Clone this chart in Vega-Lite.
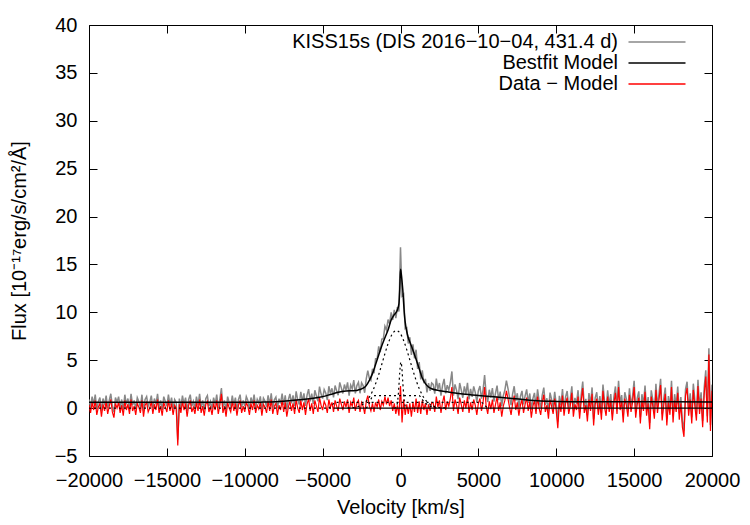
{
  "$schema": "https://vega.github.io/schema/vega-lite/v6.json",
  "width": 623,
  "height": 431,
  "autosize": {"type": "none"},
  "padding": {"left": 89, "top": 25, "right": 38, "bottom": 69},
  "background": "white",
  "config": {
    "font": "Liberation Sans",
    "view": {"stroke": "#000000", "strokeWidth": 1},
    "axis": {
      "domain": false,
      "grid": false,
      "tickColor": "#000000",
      "tickSize": -8,
      "tickWidth": 1,
      "labelColor": "#000000",
      "labelFontSize": 20,
      "labelFlush": false,
      "labelOverlap": false,
      "titleColor": "#000000",
      "titleFontSize": 20,
      "titleFontWeight": "normal"
    }
  },
  "datasets": {
    "spec": [
      {"v":-20000,"d":0.9,"r":0.3},{"v":-19900,"d":0.1,"r":-0.5},{"v":-19800,"d":1.2,"r":0.6},{"v":-19700,"d":0.4,"r":-0.2},{"v":-19600,"d":1.4,"r":0.8},
      {"v":-19500,"d":-0.1,"r":-0.7},{"v":-19400,"d":0.7,"r":0.1},{"v":-19300,"d":1.1,"r":0.5},{"v":-19200,"d":-0.3,"r":-0.9},{"v":-19100,"d":1.0,"r":0.4},
      {"v":-19000,"d":0.3,"r":-0.3},{"v":-18900,"d":1.3,"r":0.7},{"v":-18800,"d":0.0,"r":-0.6},{"v":-18700,"d":0.8,"r":0.2},{"v":-18600,"d":1.5,"r":0.9},
      {"v":-18500,"d":0.2,"r":-0.4},{"v":-18400,"d":-0.4,"r":-1.0},{"v":-18300,"d":1.1,"r":0.5},{"v":-18200,"d":0.6,"r":0.0},{"v":-18100,"d":1.2,"r":0.6},
      {"v":-18000,"d":0.1,"r":-0.5},{"v":-17900,"d":0.9,"r":0.3},{"v":-17800,"d":-0.2,"r":-0.8},{"v":-17700,"d":1.4,"r":0.8},{"v":-17600,"d":0.4,"r":-0.2},
      {"v":-17500,"d":1.0,"r":0.4},{"v":-17400,"d":0.0,"r":-0.6},{"v":-17300,"d":1.5,"r":0.9},{"v":-17200,"d":0.3,"r":-0.3},{"v":-17100,"d":0.8,"r":0.2},
      {"v":-17000,"d":-0.1,"r":-0.7},{"v":-16900,"d":1.1,"r":0.5},{"v":-16800,"d":0.7,"r":0.1},{"v":-16700,"d":0.1,"r":-0.5},{"v":-16600,"d":1.4,"r":0.8},
      {"v":-16500,"d":-0.3,"r":-0.9},{"v":-16400,"d":0.9,"r":0.3},{"v":-16300,"d":1.2,"r":0.6},{"v":-16200,"d":0.2,"r":-0.4},{"v":-16100,"d":0.6,"r":0.0},
      {"v":-16000,"d":1.3,"r":0.7},{"v":-15900,"d":0.0,"r":-0.6},{"v":-15800,"d":1.0,"r":0.4},{"v":-15700,"d":0.4,"r":-0.2},{"v":-15600,"d":1.5,"r":0.9},
      {"v":-15500,"d":0.1,"r":-0.5},{"v":-15400,"d":0.8,"r":0.2},{"v":-15300,"d":-0.2,"r":-0.8},{"v":-15200,"d":1.2,"r":0.6},{"v":-15100,"d":0.7,"r":0.1},
      {"v":-15000,"d":0.2,"r":-0.4},{"v":-14900,"d":1.4,"r":0.8},{"v":-14800,"d":0.3,"r":-0.3},{"v":-14700,"d":1.1,"r":0.5},{"v":-14600,"d":-0.1,"r":-0.7},
      {"v":-14500,"d":0.9,"r":0.3},{"v":-14400,"d":0.6,"r":0.0},{"v":-14300,"d":-3.3,"r":-3.9},{"v":-14200,"d":1.0,"r":0.4},{"v":-14100,"d":0.1,"r":-0.5},
      {"v":-14000,"d":1.3,"r":0.7},{"v":-13900,"d":0.4,"r":-0.2},{"v":-13800,"d":1.1,"r":0.5},{"v":-13700,"d":-0.3,"r":-0.9},{"v":-13600,"d":0.9,"r":0.3},
      {"v":-13500,"d":1.4,"r":0.8},{"v":-13400,"d":0.2,"r":-0.4},{"v":-13300,"d":0.7,"r":0.1},{"v":-13200,"d":0.0,"r":-0.6},{"v":-13100,"d":1.2,"r":0.6},
      {"v":-13000,"d":0.3,"r":-0.3},{"v":-12900,"d":1.5,"r":0.9},{"v":-12800,"d":0.1,"r":-0.5},{"v":-12700,"d":0.8,"r":0.2},{"v":-12600,"d":-0.2,"r":-0.8},
      {"v":-12500,"d":1.0,"r":0.4},{"v":-12400,"d":1.3,"r":0.7},{"v":-12300,"d":0.2,"r":-0.4},{"v":-12200,"d":0.7,"r":0.1},{"v":-12100,"d":-0.1,"r":-0.7},
      {"v":-12000,"d":1.1,"r":0.5},{"v":-11900,"d":0.4,"r":-0.2},{"v":-11800,"d":1.4,"r":0.8},{"v":-11700,"d":0.0,"r":-0.6},{"v":-11600,"d":0.9,"r":0.3},
      {"v":-11500,"d":2.1,"r":1.5},{"v":-11400,"d":0.1,"r":-0.5},{"v":-11300,"d":0.8,"r":0.2},{"v":-11200,"d":-0.3,"r":-0.9},{"v":-11100,"d":1.2,"r":0.6},
      {"v":-11000,"d":0.6,"r":0.0},{"v":-10900,"d":0.2,"r":-0.4},{"v":-10800,"d":1.3,"r":0.7},{"v":-10700,"d":0.3,"r":-0.3},{"v":-10600,"d":1.1,"r":0.5},
      {"v":-10500,"d":-0.2,"r":-0.8},{"v":-10400,"d":0.9,"r":0.3},{"v":-10300,"d":1.4,"r":0.8},{"v":-10200,"d":0.1,"r":-0.5},{"v":-10100,"d":0.8,"r":0.2},
      {"v":-10000,"d":0.2,"r":-0.4},{"v":-9900,"d":1.2,"r":0.6},{"v":-9800,"d":0.8,"r":0.2},{"v":-9700,"d":-0.09,"r":-0.7},{"v":-9600,"d":1.11,"r":0.5},
      {"v":-9500,"d":0.41,"r":-0.2},{"v":-9400,"d":1.41,"r":0.8},{"v":-9300,"d":0.11,"r":-0.5},{"v":-9200,"d":0.92,"r":0.3},{"v":-9100,"d":0.52,"r":-0.1},
      {"v":-9000,"d":1.22,"r":0.6},{"v":-8900,"d":-0.18,"r":-0.8},{"v":-8800,"d":1.03,"r":0.4},{"v":-8700,"d":0.73,"r":0.1},{"v":-8600,"d":0.14,"r":-0.5},
      {"v":-8500,"d":1.34,"r":0.7},{"v":-8400,"d":0.34,"r":-0.3},{"v":-8300,"d":1.55,"r":0.9},{"v":-8200,"d":0.05,"r":-0.6},{"v":-8100,"d":0.86,"r":0.2},
      {"v":-8000,"d":1.16,"r":0.5},{"v":-7900,"d":-0.03,"r":-0.7},{"v":-7800,"d":0.98,"r":0.3},{"v":-7700,"d":0.49,"r":-0.2},{"v":-7600,"d":1.51,"r":0.8},
      {"v":-7500,"d":0.32,"r":-0.4},{"v":-7400,"d":1.34,"r":0.6},{"v":-7300,"d":-0.15,"r":-0.9},{"v":-7200,"d":0.87,"r":0.1},{"v":-7100,"d":1.48,"r":0.7},
      {"v":-7000,"d":0.5,"r":-0.3},{"v":-6900,"d":1.32,"r":0.5},{"v":-6800,"d":0.23,"r":-0.6},{"v":-6700,"d":1.75,"r":0.9},{"v":-6600,"d":0.86,"r":0.0},
      {"v":-6500,"d":0.38,"r":-0.5},{"v":-6400,"d":1.7,"r":0.8},{"v":-6300,"d":0.71,"r":-0.2},{"v":-6200,"d":1.53,"r":0.6},{"v":-6100,"d":0.24,"r":-0.7},
      {"v":-6000,"d":1.36,"r":0.4},{"v":-5900,"d":1.98,"r":1.0},{"v":-5800,"d":0.7,"r":-0.3},{"v":-5700,"d":1.52,"r":0.5},{"v":-5600,"d":0.44,"r":-0.6},
      {"v":-5500,"d":1.86,"r":0.8},{"v":-5400,"d":1.29,"r":0.2},{"v":-5300,"d":0.72,"r":-0.4},{"v":-5200,"d":2.24,"r":1.1},{"v":-5100,"d":1.47,"r":0.3},
      {"v":-5000,"d":1.0,"r":-0.2},{"v":-4900,"d":1.94,"r":0.7},{"v":-4800,"d":1.59,"r":0.3},{"v":-4700,"d":0.83,"r":-0.5},{"v":-4600,"d":2.28,"r":0.9},
      {"v":-4500,"d":1.52,"r":0.1},{"v":-4400,"d":2.07,"r":0.6},{"v":-4300,"d":1.12,"r":-0.4},{"v":-4200,"d":2.36,"r":0.8},{"v":-4100,"d":1.81,"r":0.2},
      {"v":-4000,"d":1.35,"r":-0.3},{"v":-3900,"d":2.68,"r":1.0},{"v":-3800,"d":2.11,"r":0.4},{"v":-3700,"d":1.53,"r":-0.2},{"v":-3600,"d":2.46,"r":0.7},
      {"v":-3500,"d":1.88,"r":0.1},{"v":-3400,"d":2.69,"r":0.9},{"v":-3300,"d":1.3,"r":-0.5},{"v":-3200,"d":2.41,"r":0.6},{"v":-3100,"d":2.01,"r":0.2},
      {"v":-3000,"d":2.92,"r":1.1},{"v":-2900,"d":1.53,"r":-0.3},{"v":-2800,"d":2.35,"r":0.5},{"v":-2700,"d":2.7,"r":0.8},{"v":-2600,"d":1.55,"r":-0.4},
      {"v":-2500,"d":2.65,"r":0.6},{"v":-2400,"d":2.35,"r":0.2},{"v":-2300,"d":1.6,"r":-0.6},{"v":-2200,"d":3.05,"r":0.7},{"v":-2100,"d":3.9,"r":1.3},
      {"v":-2000,"d":3.1,"r":0.2},{"v":-1900,"d":2.9,"r":-0.3},{"v":-1800,"d":4.1,"r":0.5},{"v":-1700,"d":3.65,"r":-0.4},{"v":-1600,"d":5.15,"r":0.6},
      {"v":-1500,"d":5.15,"r":0.1},{"v":-1400,"d":6.45,"r":0.9},{"v":-1300,"d":5.85,"r":-0.2},{"v":-1200,"d":7.2,"r":0.7},{"v":-1100,"d":7.25,"r":0.3},
      {"v":-1000,"d":8.55,"r":1.2},{"v":-900,"d":8.15,"r":0.4},{"v":-800,"d":9.25,"r":1.1},{"v":-700,"d":8.8,"r":0.2},{"v":-600,"d":10.0,"r":0.8},
      {"v":-500,"d":9.2,"r":-0.3},{"v":-400,"d":10.25,"r":0.5},{"v":-300,"d":9.4,"r":-0.6},{"v":-200,"d":10.55,"r":0.3},{"v":-100,"d":10.1,"r":-0.8},
      {"v":0,"d":16.8,"r":2.3},{"v":100,"d":11.7,"r":-1.5},{"v":200,"d":11.9,"r":0.9},{"v":300,"d":8.3,"r":-0.7},{"v":400,"d":8.4,"r":0.4},
      {"v":500,"d":6.75,"r":-0.6},{"v":600,"d":7.4,"r":0.5},{"v":700,"d":5.55,"r":-0.9},{"v":800,"d":6.65,"r":0.6},{"v":900,"d":5.2,"r":-0.4},
      {"v":1000,"d":6.1,"r":1.0},{"v":1100,"d":4.1,"r":-0.5},{"v":1200,"d":4.8,"r":0.7},{"v":1300,"d":3.0,"r":-0.6},{"v":1400,"d":3.95,"r":0.8},
      {"v":1500,"d":2.6,"r":-0.2},{"v":1600,"d":3.05,"r":0.5},{"v":1700,"d":1.65,"r":-0.7},{"v":1800,"d":2.6,"r":0.4},{"v":1900,"d":1.8,"r":-0.3},
      {"v":2000,"d":2.62,"r":0.6},{"v":2100,"d":2.47,"r":0.5},{"v":2200,"d":1.52,"r":-0.4},{"v":2300,"d":3.09,"r":1.2},{"v":2400,"d":1.95,"r":0.1},
      {"v":2500,"d":2.62,"r":0.8},{"v":2600,"d":1.3,"r":-0.5},{"v":2700,"d":2.38,"r":0.6},{"v":2800,"d":3.05,"r":1.3},{"v":2900,"d":1.53,"r":-0.2},
      {"v":3000,"d":2.4,"r":0.7},{"v":3100,"d":1.88,"r":0.2},{"v":3200,"d":2.65,"r":1.0},{"v":3300,"d":3.83,"r":2.2},{"v":3400,"d":1.3,"r":-0.3},
      {"v":3500,"d":2.48,"r":0.9},{"v":3600,"d":1.86,"r":0.3},{"v":3700,"d":0.94,"r":-0.6},{"v":3800,"d":2.62,"r":1.1},{"v":3900,"d":1.9,"r":0.4},
      {"v":4000,"d":1.08,"r":-0.4},{"v":4100,"d":2.26,"r":0.8},{"v":4200,"d":1.45,"r":0.0},{"v":4300,"d":2.63,"r":1.2},{"v":4400,"d":0.92,"r":-0.5},
      {"v":4500,"d":2.0,"r":0.6},{"v":4600,"d":1.18,"r":-0.2},{"v":4700,"d":2.27,"r":0.9},{"v":4800,"d":1.65,"r":0.3},{"v":4900,"d":0.64,"r":-0.7},
      {"v":5000,"d":1.82,"r":0.5},{"v":5100,"d":2.31,"r":1.0},{"v":5200,"d":0.99,"r":-0.3},{"v":5300,"d":1.88,"r":0.6},{"v":5400,"d":3.46,"r":2.2},
      {"v":5500,"d":1.45,"r":0.2},{"v":5600,"d":0.64,"r":-0.6},{"v":5700,"d":1.92,"r":0.7},{"v":5800,"d":1.11,"r":-0.1},{"v":5900,"d":2.09,"r":0.9},
      {"v":6000,"d":0.68,"r":-0.5},{"v":6100,"d":1.57,"r":0.4},{"v":6200,"d":2.35,"r":1.2},{"v":6300,"d":0.84,"r":-0.3},{"v":6400,"d":1.72,"r":0.6},
      {"v":6500,"d":0.21,"r":-0.9},{"v":6600,"d":1.29,"r":0.2},{"v":6700,"d":1.88,"r":0.8},{"v":6800,"d":2.86,"r":1.8},{"v":6900,"d":2.05,"r":1.0},
      {"v":7000,"d":1.13,"r":0.1},{"v":7100,"d":0.31,"r":-0.7},{"v":7200,"d":1.5,"r":0.5},{"v":7300,"d":2.28,"r":1.3},{"v":7400,"d":0.77,"r":-0.2},
      {"v":7500,"d":1.55,"r":0.6},{"v":7600,"d":0.13,"r":-0.8},{"v":7700,"d":1.22,"r":0.3},{"v":7800,"d":1.8,"r":0.9},{"v":7900,"d":0.39,"r":-0.5},
      {"v":8000,"d":1.27,"r":0.4},{"v":8100,"d":1.96,"r":1.1},{"v":8200,"d":0.54,"r":-0.3},{"v":8300,"d":1.53,"r":0.7},{"v":8400,"d":-0.19,"r":-1.0},
      {"v":8500,"d":1.0,"r":0.2},{"v":8600,"d":1.59,"r":0.8},{"v":8700,"d":0.18,"r":-0.6},{"v":8800,"d":1.97,"r":1.2},{"v":8900,"d":0.76,"r":0.0},
      {"v":9000,"d":0.05,"r":-0.7},{"v":9100,"d":1.35,"r":0.6},{"v":9200,"d":2.14,"r":1.4},{"v":9300,"d":0.34,"r":-0.4},{"v":9400,"d":1.03,"r":0.3},
      {"v":9500,"d":-0.38,"r":-1.1},{"v":9600,"d":1.62,"r":0.9},{"v":9700,"d":0.92,"r":0.2},{"v":9800,"d":0.11,"r":-0.6},{"v":9900,"d":1.71,"r":1.0},
      {"v":10000,"d":0.4,"r":-0.3},{"v":10100,"d":-1.42,"r":-2.1},{"v":10200,"d":1.28,"r":0.6},{"v":10300,"d":0.28,"r":-0.4},{"v":10400,"d":1.98,"r":1.3},
      {"v":10500,"d":-0.12,"r":-0.8},{"v":10600,"d":1.18,"r":0.5},{"v":10700,"d":1.78,"r":1.1},{"v":10800,"d":0.08,"r":-0.6},{"v":10900,"d":0.88,"r":0.2},
      {"v":11000,"d":2.28,"r":1.6},{"v":11100,"d":-0.23,"r":-0.9},{"v":11200,"d":1.07,"r":0.4},{"v":11300,"d":0.47,"r":-0.2},{"v":11400,"d":1.87,"r":1.2},
      {"v":11500,"d":-0.43,"r":-1.1},{"v":11600,"d":1.37,"r":0.7},{"v":11700,"d":2.77,"r":2.1},{"v":11800,"d":0.17,"r":-0.5},{"v":11900,"d":0.97,"r":0.3},
      {"v":12000,"d":-0.73,"r":-1.4},{"v":12100,"d":1.56,"r":0.9},{"v":12200,"d":0.36,"r":-0.3},{"v":12300,"d":2.16,"r":1.5},{"v":12400,"d":-1.14,"r":-1.8},
      {"v":12500,"d":1.06,"r":0.4},{"v":12600,"d":1.66,"r":1.0},{"v":12700,"d":-0.04,"r":-0.7},{"v":12800,"d":1.26,"r":0.6},{"v":12900,"d":-0.54,"r":-1.2},
      {"v":13000,"d":2.46,"r":1.8},{"v":13100,"d":0.76,"r":0.1},{"v":13200,"d":-0.14,"r":-0.8},{"v":13300,"d":1.86,"r":1.2},{"v":13400,"d":0.26,"r":-0.4},
      {"v":13500,"d":1.46,"r":0.8},{"v":13600,"d":-0.64,"r":-1.3},{"v":13700,"d":1.16,"r":0.5},{"v":13800,"d":2.26,"r":1.6},{"v":13900,"d":0.06,"r":-0.6},
      {"v":14000,"d":2.86,"r":2.2},{"v":14100,"d":0.46,"r":-0.2},{"v":14200,"d":1.36,"r":0.7},{"v":14300,"d":-0.84,"r":-1.5},{"v":14400,"d":1.66,"r":1.0},
      {"v":14500,"d":0.96,"r":0.3},{"v":14600,"d":-0.24,"r":-0.9},{"v":14700,"d":2.06,"r":1.4},{"v":14800,"d":0.26,"r":-0.4},{"v":14900,"d":1.26,"r":0.6},
      {"v":15000,"d":2.86,"r":2.2},{"v":15100,"d":-0.35,"r":-1.0},{"v":15200,"d":1.05,"r":0.4},{"v":15300,"d":1.75,"r":1.1},{"v":15400,"d":-0.95,"r":-1.6},
      {"v":15500,"d":1.45,"r":0.8},{"v":15600,"d":0.35,"r":-0.3},{"v":15700,"d":2.35,"r":1.7},{"v":15800,"d":-0.15,"r":-0.8},{"v":15900,"d":1.15,"r":0.5},
      {"v":16000,"d":-1.55,"r":-2.2},{"v":16100,"d":1.85,"r":1.2},{"v":16200,"d":0.85,"r":0.2},{"v":16300,"d":-0.45,"r":-1.1},{"v":16400,"d":2.55,"r":1.9},
      {"v":16500,"d":0.15,"r":-0.5},{"v":16600,"d":1.55,"r":0.9},{"v":16700,"d":3.05,"r":2.4},{"v":16800,"d":-0.65,"r":-1.3},{"v":16900,"d":0.95,"r":0.3},
      {"v":17000,"d":2.15,"r":1.5},{"v":17100,"d":-1.15,"r":-1.8},{"v":17200,"d":1.25,"r":0.6},{"v":17300,"d":-0.05,"r":-0.7},{"v":17400,"d":2.85,"r":2.2},
      {"v":17500,"d":-0.85,"r":-1.5},{"v":17600,"d":1.45,"r":0.8},{"v":17700,"d":0.25,"r":-0.4},{"v":17800,"d":2.25,"r":1.6},{"v":17900,"d":-0.55,"r":-1.2},
      {"v":18000,"d":1.15,"r":0.5},{"v":18100,"d":-1.35,"r":-2.0},{"v":18200,"d":-2.35,"r":-3.0},{"v":18300,"d":1.95,"r":1.3},{"v":18400,"d":2.75,"r":2.1},
      {"v":18500,"d":-0.15,"r":-0.8},{"v":18600,"d":1.55,"r":0.9},{"v":18700,"d":-0.95,"r":-1.6},{"v":18800,"d":2.55,"r":1.9},{"v":18900,"d":0.85,"r":0.2},
      {"v":19000,"d":-0.65,"r":-1.3},{"v":19100,"d":2.95,"r":2.3},{"v":19200,"d":0.05,"r":-0.6},{"v":19300,"d":1.65,"r":1.0},{"v":19400,"d":-1.35,"r":-2.0},
      {"v":19500,"d":2.15,"r":1.5},{"v":19600,"d":3.95,"r":3.3},{"v":19700,"d":-0.85,"r":-1.5},{"v":19800,"d":6.25,"r":5.6},{"v":19900,"d":-1.75,"r":-2.4},
      {"v":20000,"d":2.45,"r":1.8}
    ],
    "model": [
      {"v":-20000,"m":0.6},{"v":-12000,"m":0.6},{"v":-10000,"m":0.6},{"v":-9000,"m":0.62},{"v":-8000,"m":0.66},
      {"v":-7500,"m":0.72},{"v":-7000,"m":0.8},{"v":-6500,"m":0.88},{"v":-6000,"m":0.96},{"v":-5500,"m":1.06},
      {"v":-5000,"m":1.2},{"v":-4500,"m":1.42},{"v":-4000,"m":1.65},{"v":-3500,"m":1.78},{"v":-3000,"m":1.82},
      {"v":-2800,"m":1.85},{"v":-2600,"m":1.95},{"v":-2400,"m":2.08},{"v":-2200,"m":2.35},{"v":-2000,"m":2.9},
      {"v":-1800,"m":3.6},{"v":-1600,"m":4.55},{"v":-1400,"m":5.55},{"v":-1200,"m":6.5},{"v":-1000,"m":7.35},
      {"v":-800,"m":8.15},{"v":-600,"m":9.2},{"v":-400,"m":9.75},{"v":-200,"m":10.25},{"v":-100,"m":10.9},
      {"v":-50,"m":12.3},{"v":0,"m":14.5},{"v":50,"m":14.0},{"v":100,"m":13.2},{"v":150,"m":12.3},
      {"v":200,"m":11.0},{"v":250,"m":9.8},{"v":300,"m":9.0},{"v":400,"m":8.0},{"v":500,"m":7.35},
      {"v":600,"m":6.9},{"v":800,"m":6.05},{"v":1000,"m":5.1},{"v":1200,"m":4.1},{"v":1400,"m":3.15},
      {"v":1600,"m":2.55},{"v":1800,"m":2.2},{"v":2000,"m":2.02},{"v":2500,"m":1.82},{"v":3000,"m":1.7},
      {"v":3500,"m":1.58},{"v":4000,"m":1.48},{"v":5000,"m":1.32},{"v":6000,"m":1.18},{"v":7000,"m":1.03},
      {"v":8000,"m":0.87},{"v":9000,"m":0.75},{"v":10000,"m":0.7},{"v":12000,"m":0.66},{"v":15000,"m":0.655},
      {"v":20000,"m":0.65}
    ],
    "comp": [
      {"c":"broad","v":-3400,"y":0.01},{"c":"broad","v":-3200,"y":0.03},{"c":"broad","v":-3000,"y":0.06},{"c":"broad","v":-2800,"y":0.13},
      {"c":"broad","v":-2600,"y":0.24},{"c":"broad","v":-2400,"y":0.42},{"c":"broad","v":-2200,"y":0.71},{"c":"broad","v":-2000,"y":1.15},
      {"c":"broad","v":-1800,"y":1.75},{"c":"broad","v":-1600,"y":2.54},{"c":"broad","v":-1400,"y":3.5},{"c":"broad","v":-1200,"y":4.58},
      {"c":"broad","v":-1000,"y":5.69},{"c":"broad","v":-800,"y":6.71},{"c":"broad","v":-600,"y":7.52},{"c":"broad","v":-400,"y":8.0},
      {"c":"broad","v":-260,"y":8.1},{"c":"broad","v":-200,"y":8.08},{"c":"broad","v":0,"y":7.75},{"c":"broad","v":200,"y":7.06},
      {"c":"broad","v":400,"y":6.11},{"c":"broad","v":600,"y":5.02},{"c":"broad","v":800,"y":3.92},{"c":"broad","v":1000,"y":2.91},
      {"c":"broad","v":1200,"y":2.05},{"c":"broad","v":1400,"y":1.37},{"c":"broad","v":1600,"y":0.87},{"c":"broad","v":1800,"y":0.52},
      {"c":"broad","v":2000,"y":0.3},{"c":"broad","v":2200,"y":0.16},{"c":"broad","v":2400,"y":0.08},{"c":"broad","v":2600,"y":0.04},
      {"c":"broad","v":2800,"y":0.02},{"c":"broad","v":3000,"y":0.01},
      {"c":"narrow","v":-400,"y":0.0},{"c":"narrow","v":-350,"y":0.01},{"c":"narrow","v":-300,"y":0.05},{"c":"narrow","v":-250,"y":0.19},
      {"c":"narrow","v":-200,"y":0.54},{"c":"narrow","v":-150,"y":1.26},{"c":"narrow","v":-100,"y":2.39},{"c":"narrow","v":-50,"y":3.69},
      {"c":"narrow","v":0,"y":4.63},{"c":"narrow","v":30,"y":4.8},{"c":"narrow","v":50,"y":4.72},{"c":"narrow","v":100,"y":3.92},
      {"c":"narrow","v":150,"y":2.65},{"c":"narrow","v":200,"y":1.45},{"c":"narrow","v":250,"y":0.65},{"c":"narrow","v":300,"y":0.24},
      {"c":"narrow","v":350,"y":0.07},{"c":"narrow","v":400,"y":0.02},{"c":"narrow","v":450,"y":0.0},
      {"c":"shelf","v":-2200,"y":0.0},{"c":"shelf","v":-2000,"y":0.5},{"c":"shelf","v":-1850,"y":1.1},{"c":"shelf","v":-1700,"y":1.3},
      {"c":"shelf","v":1200,"y":1.3},{"c":"shelf","v":1350,"y":1.0},{"c":"shelf","v":1550,"y":0.6},{"c":"shelf","v":1800,"y":0.3},
      {"c":"shelf","v":2100,"y":0.1},{"c":"shelf","v":2400,"y":0.0},
      {"c":"wide","v":-4600,"y":0.0},{"c":"wide","v":-4400,"y":0.3},{"c":"wide","v":-4200,"y":0.6},{"c":"wide","v":5200,"y":0.6},
      {"c":"wide","v":5400,"y":0.3},{"c":"wide","v":5600,"y":0.0},
      {"c":"zero","v":-20000,"y":0.0},{"c":"zero","v":-4300,"y":0.0}
    ],
    "zero": [
      {"v":-4300,"y":0},{"v":20000,"y":0}
    ]
  },
  "layer": [
    {
      "data": {"name": "spec"},
      "mark": {"type": "line", "strokeWidth": 1.5, "clip": true},
      "encoding": {
        "x": {
          "field": "v", "type": "quantitative",
          "scale": {"domain": [-20000, 20000], "nice": false, "zero": false},
          "axis": {
            "values": [-20000, -15000, -10000, -5000, 0, 5000, 10000, 15000, 20000],
            "format": "d",
            "title": "Velocity [km/s]",
            "labelPadding": 22,
            "titlePadding": 7
          }
        },
        "y": {
          "field": "d", "type": "quantitative",
          "scale": {"domain": [-5, 40], "nice": false, "zero": false},
          "axis": {
            "values": [-5, 0, 5, 10, 15, 20, 25, 30, 35, 40],
            "format": "d",
            "title": "Flux [10⁻¹⁷erg/s/cm²/Å]",
            "labelPadding": 20,
            "titlePadding": 25
          }
        },
        "color": {
          "datum": "KISS15s (DIS 2016−10−04, 431.4 d)",
          "type": "nominal",
          "scale": {
            "domain": ["KISS15s (DIS 2016−10−04, 431.4 d)", "Bestfit Model", "Data − Model"],
            "range": ["#888888", "#000000", "#ff0000"]
          },
          "legend": {
            "orient": "none",
            "legendX": 558,
            "legendY": 7,
            "title": null,
            "padding": 0,
            "symbolType": "M-5,0H5",
            "symbolSize": 130,
            "symbolStrokeWidth": 1.5,
            "labelFontSize": 20,
            "labelColor": "#000000",
            "labelAlign": "right",
            "labelOffset": -49,
            "labelLimit": 600,
            "rowPadding": 1
          }
        }
      }
    },
    {
      "data": {"name": "spec"},
      "mark": {"type": "line", "strokeWidth": 1.2, "clip": true},
      "encoding": {
        "x": {"field": "v", "type": "quantitative", "scale": {"domain": [-20000, 20000], "nice": false, "zero": false}, "axis": null},
        "y": {"field": "r", "type": "quantitative", "scale": {"domain": [-5, 40], "nice": false, "zero": false}, "axis": null},
        "color": {"datum": "Data − Model", "type": "nominal"}
      }
    },
    {
      "data": {"name": "model"},
      "mark": {"type": "line", "strokeWidth": 1.5, "interpolate": "monotone", "clip": true},
      "encoding": {
        "x": {"field": "v", "type": "quantitative", "scale": {"domain": [-20000, 20000], "nice": false, "zero": false}, "axis": null},
        "y": {"field": "m", "type": "quantitative", "scale": {"domain": [-5, 40], "nice": false, "zero": false}, "axis": null},
        "color": {"datum": "Bestfit Model", "type": "nominal"}
      }
    },
    {
      "data": {"name": "comp"},
      "mark": {"type": "line", "strokeWidth": 1.2, "color": "#000000", "strokeDash": [2, 3], "interpolate": "monotone", "clip": true},
      "encoding": {
        "x": {"field": "v", "type": "quantitative", "scale": {"domain": [-20000, 20000], "nice": false, "zero": false}, "axis": null},
        "y": {"field": "y", "type": "quantitative", "scale": {"domain": [-5, 40], "nice": false, "zero": false}, "axis": null},
        "detail": {"field": "c", "type": "nominal"}
      }
    },
    {
      "data": {"name": "zero"},
      "mark": {"type": "line", "strokeWidth": 1.2, "color": "#000000", "clip": true},
      "encoding": {
        "x": {
          "field": "v", "type": "quantitative",
          "scale": {"domain": [-20000, 20000], "nice": false, "zero": false},
          "axis": {"orient": "top", "labels": false, "title": null, "values": [-20000, -15000, -10000, -5000, 0, 5000, 10000, 15000, 20000]}
        },
        "y": {
          "field": "y", "type": "quantitative",
          "scale": {"domain": [-5, 40], "nice": false, "zero": false},
          "axis": {"orient": "right", "labels": false, "title": null, "values": [-5, 0, 5, 10, 15, 20, 25, 30, 35, 40]}
        }
      }
    }
  ],
  "resolve": {"axis": {"x": "independent", "y": "independent"}}
}
